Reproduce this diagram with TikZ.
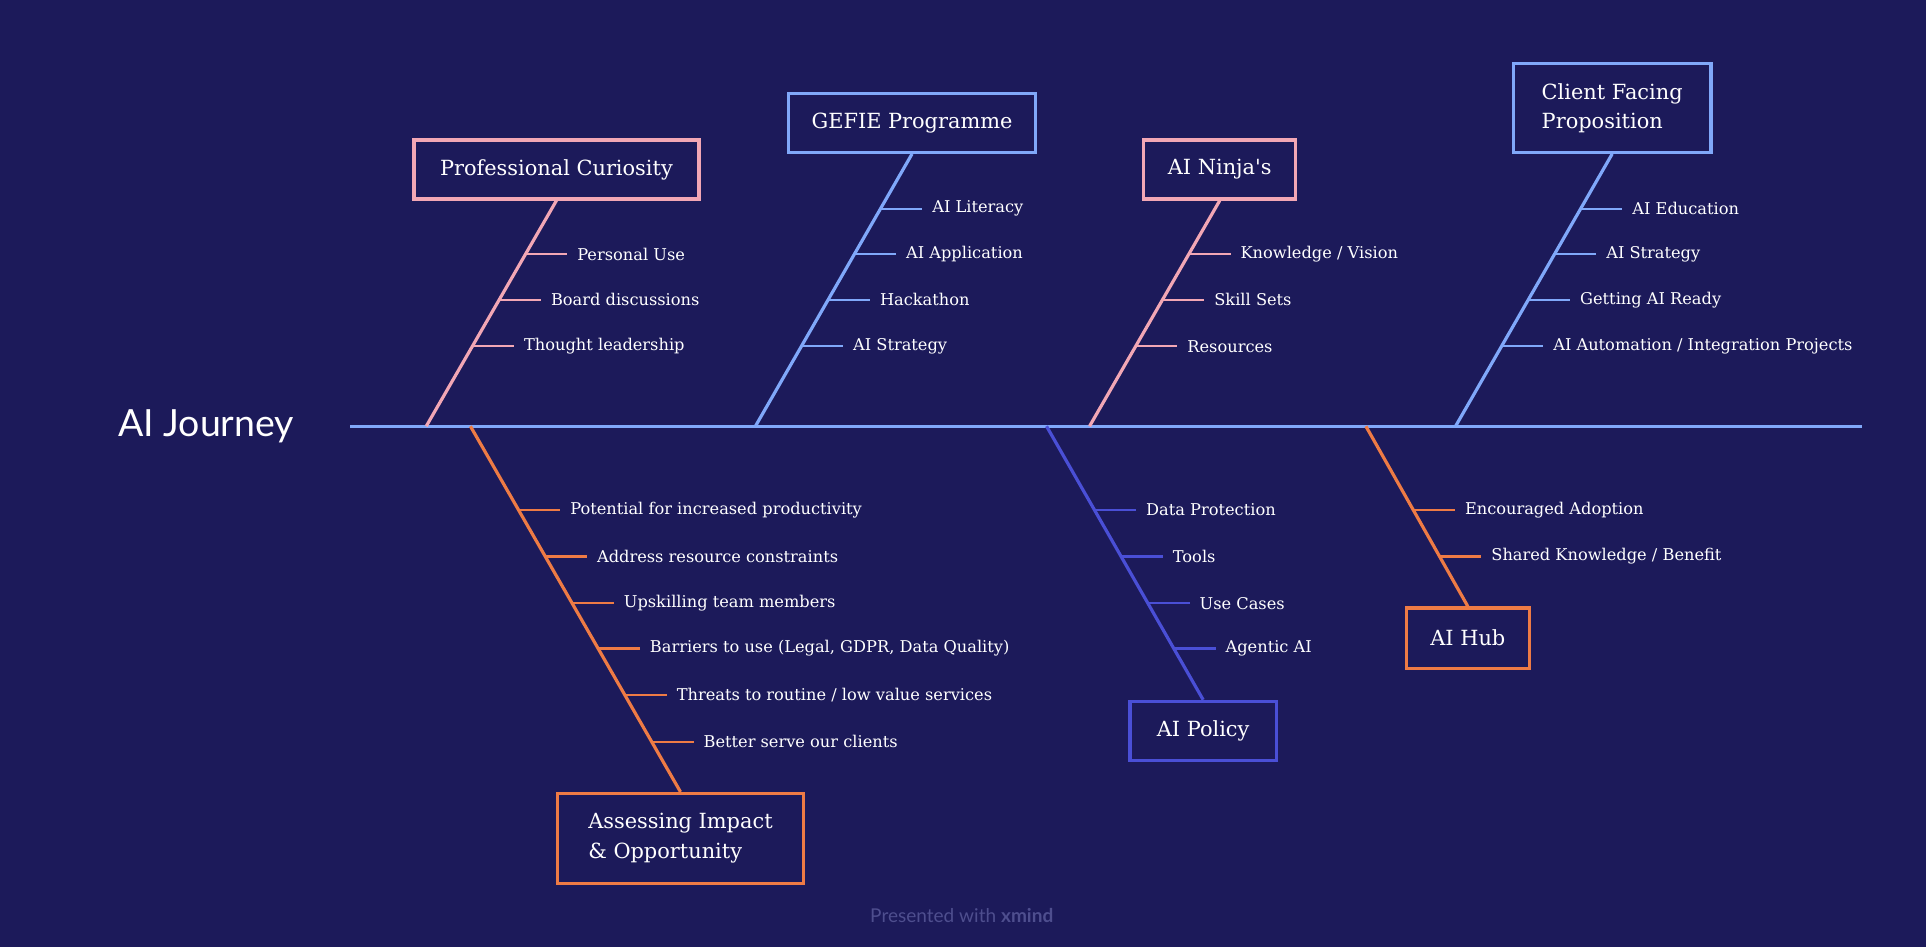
\documentclass[tikz,border=0pt]{standalone}
\usepackage{fontspec}
\setmainfont{DejaVu Serif}
\newfontfamily\sanstitle{Lato}
\usepackage{tikz}
\usetikzlibrary{positioning,intersections}

\definecolor{navy}{RGB}{28,26,90}
\definecolor{pinkc}{RGB}{242,167,181}
\definecolor{bluec}{RGB}{128,168,250}
\definecolor{orangec}{RGB}{238,123,69}
\definecolor{indigoc}{RGB}{74,79,214}
\definecolor{footc}{RGB}{78,78,142}

\begin{document}
\begin{tikzpicture}[x=1pt,y=-1pt,
    cause/.style={draw, line width=2.6pt, fill=navy, text=white, minimum height=48pt,
      inner xsep=16pt, font=\fontsize{17}{24}\selectfont},
    item/.style={text=white, inner sep=0pt, font=\fontsize{13.2}{15}\selectfont},
    bone/.style={line width=2.6pt},
    twig/.style={line width=1.8pt, shorten >=8pt}]
    \fill[navy] (0,0) rectangle (1568,771);

    % head of the fish
    \node[text=white, font=\sanstitle\fontsize{30.5}{34}\selectfont, anchor=west, inner sep=0pt] (journey) at (96,347) {AI Journey};
    \coordinate (tail) at (285,347);
    \coordinate (head) at (1516,347);
    \foreach \n/\xx in {s1/347, s2/615, s3/887, s4/1185, s5/383, s6/852, s7/1112}
        \coordinate (\n) at (\xx,347);

    % causes
    \node[cause, draw=pinkc, minimum width=232pt] (curio) at (453,138) {Professional Curiosity};
    \node[cause, draw=bluec, minimum width=201pt] (gefie) at (742.5,100) {GEFIE Programme};
    \node[cause, draw=pinkc, minimum width=124pt] (ninja) at (993,138) {AI Ninja{\addfontfeature{Ligatures=TeXOff}'}s};
    \node[cause, draw=bluec, minimum width=161pt, minimum height=72pt, align=left] (client) at (1312.5,88) {Client Facing\\Proposition};
    \node[cause, draw=orangec, minimum width=200pt, minimum height=73pt, align=left] (impact) at (554,682.5) {Assessing Impact\\\& Opportunity};
    \node[cause, draw=indigoc, minimum width=119pt] (policy) at (979.5,595) {AI Policy};
    \node[cause, draw=orangec, minimum width=100pt, minimum height=49pt] (hub) at (1195,519.5) {AI Hub};

    \draw[bone,bluec] (tail) -- (head);
    \draw[bone,pinkc,name path=curB] (s1) -- (curio.south);
    \draw[bone,bluec,name path=gefB] (s2) -- (gefie.south);
    \draw[bone,pinkc,name path=ninB] (s3) -- (ninja.south);
    \draw[bone,bluec,name path=cliB] (s4) -- (client.south);
    \draw[bone,orangec,name path=impB] (s5) -- (impact.north);
    \draw[bone,indigoc,name path=polB] (s6) -- (policy.north);
    \draw[bone,orangec,name path=hubB] (s7) -- (hub.north);

    % sub causes
    \foreach \txt/\yy [count=\i] in {Personal Use/207, Board discussions/244, Thought leadership/282}{
        \path[name path=lvl] (0,\yy) -- (1568,\yy);
        \path[name intersections={of=curB and lvl, by=cu\i}];
        \node[item, right=42pt of cu\i] (cut\i) {\txt};
        \draw[twig,pinkc] (cu\i) -- (cut\i);
    }
    \foreach \txt/\yy [count=\i] in {AI Literacy/170, AI Application/207, Hackathon/244, AI Strategy/282}{
        \path[name path=lvl] (0,\yy) -- (1568,\yy);
        \path[name intersections={of=gefB and lvl, by=ge\i}];
        \node[item, right=42pt of ge\i] (get\i) {\txt};
        \draw[twig,bluec] (ge\i) -- (get\i);
    }
    \foreach \txt/\yy [count=\i] in {{Knowledge / Vision}/207, Skill Sets/244, Resources/282}{
        \path[name path=lvl] (0,\yy) -- (1568,\yy);
        \path[name intersections={of=ninB and lvl, by=ni\i}];
        \node[item, right=42pt of ni\i] (nit\i) {\txt};
        \draw[twig,pinkc] (ni\i) -- (nit\i);
    }
    \foreach \txt/\yy [count=\i] in {AI Education/170, AI Strategy/207, Getting AI Ready/244, {AI Automation / Integration Projects}/282}{
        \path[name path=lvl] (0,\yy) -- (1568,\yy);
        \path[name intersections={of=cliB and lvl, by=cl\i}];
        \node[item, right=42pt of cl\i] (clt\i) {\txt};
        \draw[twig,bluec] (cl\i) -- (clt\i);
    }
    \foreach \txt/\yy [count=\i] in {Potential for increased productivity/415, Address resource constraints/453,
        Upskilling team members/491, {Barriers to use (Legal, GDPR, Data Quality)}/528,
        {Threats to routine / low value services}/566, Better serve our clients/604}{
        \path[name path=lvl] (0,\yy) -- (1568,\yy);
        \path[name intersections={of=impB and lvl, by=im\i}];
        \node[item, right=42pt of im\i] (imt\i) {\txt};
        \draw[twig,orangec] (im\i) -- (imt\i);
    }
    \foreach \txt/\yy [count=\i] in {Data Protection/415, Tools/453, Use Cases/491, Agentic AI/528}{
        \path[name path=lvl] (0,\yy) -- (1568,\yy);
        \path[name intersections={of=polB and lvl, by=po\i}];
        \node[item, right=42pt of po\i] (pot\i) {\txt};
        \draw[twig,indigoc] (po\i) -- (pot\i);
    }
    \foreach \txt/\yy [count=\i] in {Encouraged Adoption/415, {Shared Knowledge / Benefit}/453}{
        \path[name path=lvl] (0,\yy) -- (1568,\yy);
        \path[name intersections={of=hubB and lvl, by=hu\i}];
        \node[item, right=42pt of hu\i] (hut\i) {\txt};
        \draw[twig,orangec] (hu\i) -- (hut\i);
    }

    \node[text=footc, font=\sanstitle\fontsize{15.5}{17}\selectfont] (credit) at (783,745) {Presented with \textbf{xmind}};
\end{tikzpicture}
\end{document}
